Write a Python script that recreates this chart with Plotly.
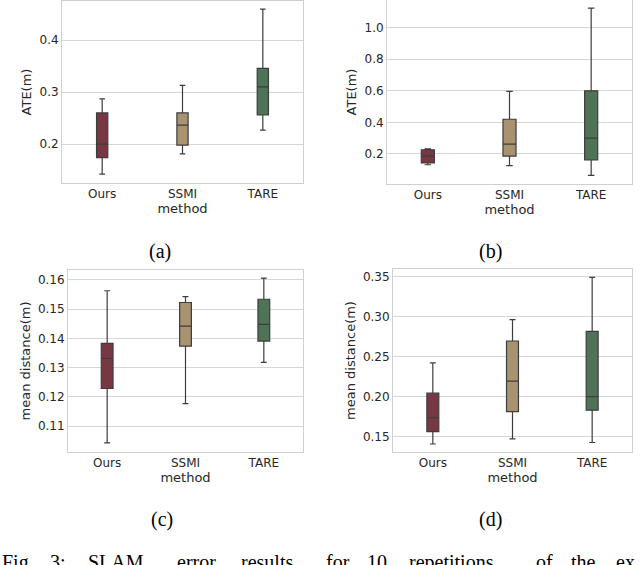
import plotly.graph_objects as go
from plotly.subplots import make_subplots

methods = ['Ours', 'SSMI', 'TARE']
colors = ['#773843', '#a8926f', '#4f7357']

# (a) ATE, first scene
a_lo = [0.142, 0.181, 0.227]
a_q1 = [0.174, 0.198, 0.256]
a_med = [0.200, 0.2365, 0.310]
a_q3 = [0.260, 0.260, 0.346]
a_hi = [0.287, 0.313, 0.460]

# (b) ATE, second scene
b_lo = [0.132, 0.126, 0.065]
b_q1 = [0.143, 0.187, 0.162]
b_med = [0.187, 0.263, 0.301]
b_q3 = [0.227, 0.420, 0.600]
b_hi = [0.232, 0.596, 1.123]

# (c) mean distance, first scene
c_lo = [0.1043, 0.1177, 0.1318]
c_q1 = [0.1229, 0.1374, 0.1391]
c_med = [0.1332, 0.1442, 0.1448]
c_q3 = [0.1383, 0.1523, 0.1534]
c_hi = [0.1563, 0.1543, 0.1606]

# (d) mean distance, second scene
d_lo = [0.141, 0.1475, 0.1429]
d_q1 = [0.1566, 0.1816, 0.1834]
d_med = [0.174, 0.2196, 0.2004]
d_q3 = [0.2046, 0.2699, 0.282]
d_hi = [0.2425, 0.2967, 0.3495]

panels = [
    (a_lo, a_q1, a_med, a_q3, a_hi),
    (b_lo, b_q1, b_med, b_q3, b_hi),
    (c_lo, c_q1, c_med, c_q3, c_hi),
    (d_lo, d_q1, d_med, d_q3, d_hi),
]
cells = [(1, 1), (1, 2), (2, 1), (2, 2)]
widths = [0.14, 0.16, 0.15, 0.15]

fig = make_subplots(rows=2, cols=2)

for (lo, q1, med, q3, hi), (r, c), w in zip(panels, cells, widths):
    for i, m in enumerate(methods):
        fig.add_trace(go.Box(
            x=[m], lowerfence=[lo[i]], q1=[q1[i]], median=[med[i]],
            q3=[q3[i]], upperfence=[hi[i]],
            width=w, whiskerwidth=0.5,
            fillcolor=colors[i],
            line=dict(color='#3d3d3d', width=1.2),
            boxpoints=False, showlegend=False, hoverinfo='skip'
        ), row=r, col=c)

W, H = 640, 565


def px_x(p):
    return p / W


def px_y(p):
    return 1 - p / H


# plot areas in pixels: left, right, top, bottom
boxes = [(62, 303, 1, 183), (387, 632, 0, 184), (68, 303, 270, 452), (393, 632, 269, 452)]
yranges = [[0.125, 0.4756], [0.01, 1.175], [0.1012, 0.1634], [0.131, 0.36]]
dticks = [0.1, 0.2, 0.01, 0.05]
fmts = ['.1f', '.1f', '.2f', '.2f']
ytitles = ['ATE(m)', 'ATE(m)', 'mean distance(m)', 'mean distance(m)']

axis_font = dict(family='DejaVu Sans', size=12, color='#262626')
title_font = dict(family='DejaVu Sans', size=13, color='#262626')

for k, ((x0, x1, y0, y1), yr, dt, fm, yt) in enumerate(zip(boxes, yranges, dticks, fmts, ytitles)):
    sfx = '' if k == 0 else str(k + 1)
    fig.layout['xaxis' + sfx].update(
        domain=[px_x(x0), px_x(x1)], range=[-0.5, 2.5], automargin=False,
        showgrid=False, zeroline=False, ticks='',
        showline=True, mirror=True, linecolor='#d0d0d0', linewidth=1,
        tickfont=axis_font,
        title=dict(text='method', font=title_font, standoff=2),
    )
    fig.layout['yaxis' + sfx].update(
        domain=[px_y(y1), px_y(y0)], range=yr, dtick=dt, tickformat=fm, automargin=False,
        showgrid=True, gridcolor='#d6d6d6', gridwidth=1, zeroline=False, ticks='',
        showline=True, mirror=True, linecolor='#d0d0d0', linewidth=1,
        tickfont=axis_font,
        title=dict(text=yt, font=title_font, standoff=4),
    )

serif = dict(family='Liberation Serif', size=20, color='black')
captions = [('(a)', 160, 252), ('(b)', 490, 252), ('(c)', 162, 519), ('(d)', 490, 519)]
for txt, px, py in captions:
    fig.add_annotation(text=txt, x=px_x(px), y=px_y(py), xref='paper', yref='paper',
                       xanchor='center', yanchor='middle', showarrow=False, font=serif)

words = [('Fig.', 0), ('3:', 48), ('SLAM', 86), ('error', 175), ('results', 239), ('for', 324),
         ('10', 365), ('repetitions', 407), ('of', 534), ('the', 569), ('ex', 614)]
for wd, px in words:
    fig.add_annotation(text=wd, x=px_x(px), y=px_y(549), xref='paper', yref='paper',
                       xanchor='left', yanchor='top', showarrow=False, font=serif)

fig.update_layout(
    width=W, height=H,
    margin=dict(l=0, r=0, t=0, b=0),
    paper_bgcolor='white', plot_bgcolor='white',
    font=dict(family='DejaVu Sans'),
)

fig.write_html('out.html', config={'displayModeBar': False},
               post_script="document.body.style.margin='0';document.body.style.overflow='hidden';")
